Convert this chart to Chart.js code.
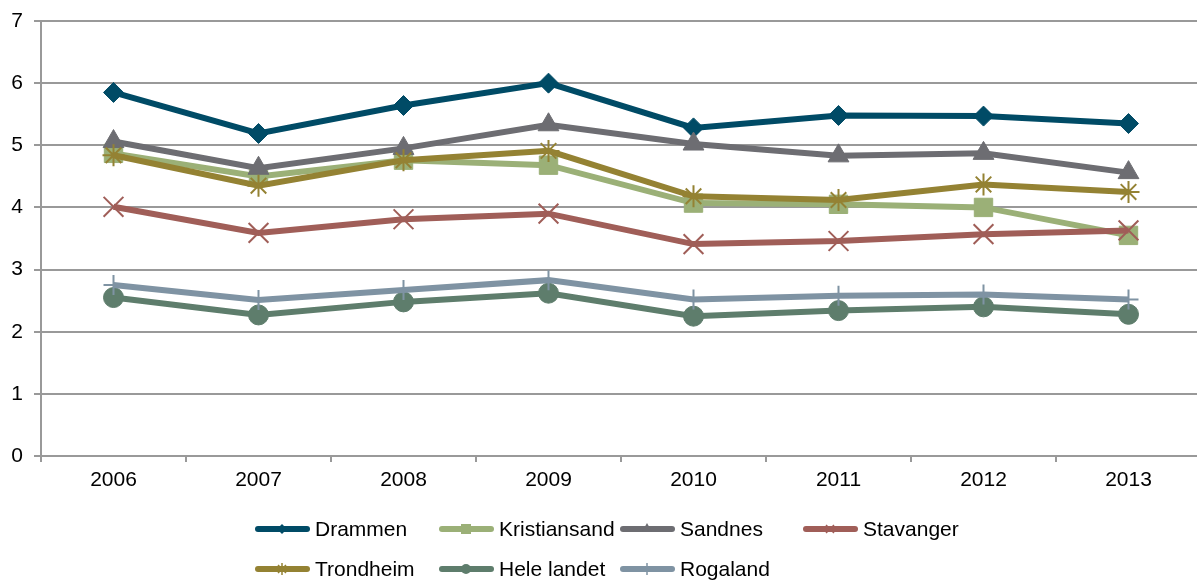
<!DOCTYPE html>
<html>
<head>
<meta charset="utf-8">
<script src="https://cdn.jsdelivr.net/npm/chart.js@4"></script>
<style>
  html, body { margin: 0; padding: 0; background: #fff; overflow: hidden; }
  #wrap { position: relative; width: 1201px; height: 580px; }
  #legend { position: absolute; left: 0; top: 0; width: 1197px; height: 580px; pointer-events: none;
            font-family: "Liberation Sans", Arial, sans-serif; font-size: 21px; color: #000; }
  .item { position: absolute; display: flex; align-items: center; height: 26px; white-space: nowrap; }
  .item svg { margin-right: 5px; }
</style>
</head>
<body>
<div id="wrap">
  <canvas id="lineChart" width="1201" height="580"></canvas>
  <div id="legend"></div>
</div>
<script>
// categories
const years = ['2006', '2007', '2008', '2009', '2010', '2011', '2012', '2013'];

// series values
const drammen      = [5.85, 5.19, 5.64, 6.00, 5.28, 5.48, 5.47, 5.35];
const kristiansand = [4.87, 4.50, 4.76, 4.68, 4.07, 4.05, 4.00, 3.55];
const sandnes      = [5.06, 4.63, 4.95, 5.33, 5.02, 4.83, 4.87, 4.56];
const stavanger    = [4.01, 3.59, 3.81, 3.90, 3.41, 3.46, 3.57, 3.63];
const trondheim    = [4.84, 4.35, 4.76, 4.91, 4.18, 4.12, 4.37, 4.25];
const heleLandet   = [2.55, 2.27, 2.48, 2.62, 2.25, 2.34, 2.40, 2.28];
const rogaland     = [2.75, 2.51, 2.67, 2.83, 2.52, 2.58, 2.60, 2.52];

// y tick labels
const yTicks = [0, 1, 2, 3, 4, 5, 6, 7];

const series = [
    { label: 'Drammen',      data: drammen,      color: '#004B66', style: 'rectRot',  radius: 10, bw: 1 },
    { label: 'Kristiansand', data: kristiansand, color: '#9BB077', style: 'rect',     radius: 13, bw: 1 },
    { label: 'Sandnes',      data: sandnes,      color: '#6D6D72', style: 'triangle', radius: 12, bw: 1 },
    { label: 'Stavanger',    data: stavanger,    color: '#A05E58', style: 'crossRot', radius: 14, bw: 2 },
    { label: 'Trondheim',    data: trondheim,    color: '#948233', style: 'star',     radius: 11, bw: 2 },
    { label: 'Hele landet',  data: heleLandet,   color: '#5E7D6C', style: 'circle',   radius: 10, bw: 1 },
    { label: 'Rogaland',     data: rogaland,     color: '#7F93A3', style: 'cross',    radius: 10, bw: 2 }
];

const gridColor = '#999999';
const fontSpec = { family: '"Liberation Sans", Arial, sans-serif', size: 21 };

// drop the automatic scale padding so the layout padding alone places the plot
function noPadding(s) {
    s.paddingTop = 0;
    s.paddingBottom = 0;
    s.paddingLeft = 0;
    s.paddingRight = 0;
}

new Chart(document.getElementById('lineChart').getContext('2d'), {
    type: 'line',
    data: {
        labels: years,
        datasets: series.map(function (s, i) {
            return {
                label: s.label,
                data: s.data,
                borderColor: s.color,
                backgroundColor: s.color,
                borderWidth: 6,
                tension: 0,
                pointStyle: s.style,
                pointRadius: s.radius,
                pointHoverRadius: s.radius,
                pointBorderWidth: s.bw,
                pointBorderColor: s.color,
                pointBackgroundColor: s.color,
                order: series.length - i
            };
        })
    },
    options: {
        responsive: false,
        animation: false,
        layout: { autoPadding: false, padding: { top: 21, right: 0, bottom: 79, left: 0 } },
        plugins: { legend: { display: false }, tooltip: { enabled: false } },
        scales: {
            x: {
                offset: true,
                grid: { offset: true, drawOnChartArea: false, color: gridColor, lineWidth: 2, tickLength: 6 },
                border: { color: gridColor, width: 2 },
                ticks: { color: '#000', font: fontSpec, padding: 6, maxRotation: 0 },
                afterFit: function (s) { s.height = 45; noPadding(s); }
            },
            y: {
                min: 0,
                max: 7,
                afterBuildTicks: function (s) { s.ticks = yTicks.map(function (v) { return { value: v }; }); },
                grid: { color: gridColor, lineWidth: 2, tickLength: 7 },
                border: { color: gridColor, width: 2 },
                ticks: { color: '#000', font: fontSpec, padding: 11 },
                afterFit: function (s) { s.width = 41; noPadding(s); }
            }
        }
    }
});

// legend, laid out in columns like the original
const legendCols = [255, 439, 620, 803];
const legendRows = [529, 569];

function markerSvg(style, c) {
    const x = 27, y = 7;
    switch (style) {
        case 'rectRot':  return '<polygon points="' + x + ',' + (y - 5) + ' ' + (x + 5) + ',' + y + ' ' + x + ',' + (y + 5) + ' ' + (x - 5) + ',' + y + '" fill="' + c + '"/>';
        case 'rect':     return '<rect x="' + (x - 5) + '" y="' + (y - 5) + '" width="10" height="10" fill="' + c + '"/>';
        case 'triangle': return '<polygon points="' + x + ',' + (y - 6) + ' ' + (x + 5) + ',' + (y + 3) + ' ' + (x - 5) + ',' + (y + 3) + '" fill="' + c + '"/>';
        case 'crossRot': return '<path d="M' + (x - 4) + ' ' + (y - 4) + 'L' + (x + 4) + ' ' + (y + 4) + 'M' + (x + 4) + ' ' + (y - 4) + 'L' + (x - 4) + ' ' + (y + 4) + '" stroke="' + c + '" stroke-width="1.5"/>';
        case 'star':     return '<path d="M' + (x - 4) + ' ' + (y - 4) + 'L' + (x + 4) + ' ' + (y + 4) + 'M' + (x + 4) + ' ' + (y - 4) + 'L' + (x - 4) + ' ' + (y + 4) + 'M' + x + ' ' + (y - 6) + 'L' + x + ' ' + (y + 6) + '" stroke="' + c + '" stroke-width="1.5"/>';
        case 'circle':   return '<circle cx="' + x + '" cy="' + y + '" r="5" fill="' + c + '"/>';
        case 'cross':    return '<path d="M' + x + ' ' + (y - 6) + 'L' + x + ' ' + (y + 6) + '" stroke="' + c + '" stroke-width="1.5"/>';
    }
    return '';
}

let legendHtml = '';
series.forEach(function (s, i) {
    const left = legendCols[i % 4];
    const top = legendRows[Math.floor(i / 4)] - 13;
    legendHtml += '<div class="item" style="left:' + left + 'px;top:' + top + 'px">' +
        '<svg width="55" height="14"><line x1="3" y1="7" x2="52" y2="7" stroke="' + s.color + '" stroke-width="6" stroke-linecap="round"/>' +
        markerSvg(s.style, s.color) + '</svg>' + s.label + '</div>';
});
document.getElementById('legend').innerHTML = legendHtml;
</script>
</body>
</html>
